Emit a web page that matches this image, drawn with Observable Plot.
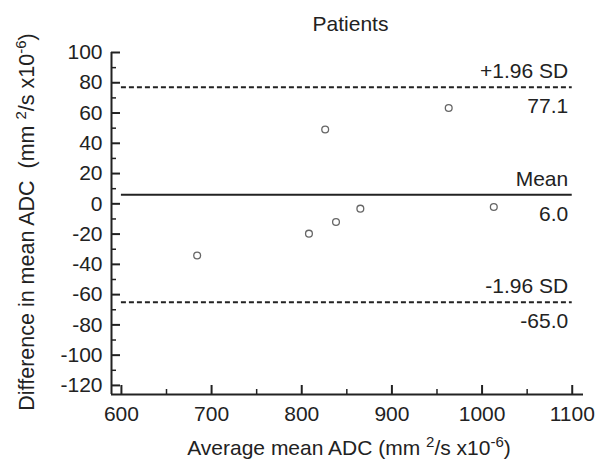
<!DOCTYPE html>
<html>
<head>
<meta charset="utf-8">
<script src="https://cdn.jsdelivr.net/npm/d3@7"></script>
<script src="https://cdn.jsdelivr.net/npm/@observablehq/plot@0.6"></script>
<style>
  html, body { margin: 0; padding: 0; background: #fff; }
  #chart svg { display: block; }
</style>
</head>
<body>
<div id="chart"></div>
<script>
// ---- data ----
const avgADC = [684, 808, 826, 838, 865, 963, 1013];
const diffADC = [-34.1, -19.7, 49.1, -12.0, -3.2, 63.3, -2.1];
const limitNames = ["+1.96 SD", "Mean", "-1.96 SD"];
const limitValues = [77.1, 6.0, -65.0];
const limitDashed = [true, false, true];
const lineExtent = [600, 1100];
const xDomain = [589, 1112.5];
const yDomain = [-126, 100];
const xTicks = [600, 700, 800, 900, 1000, 1100];
const xMinor = [650, 750, 850, 950, 1050];
const yTicks = [100, 80, 60, 40, 20, 0, -20, -40, -60, -80, -100, -120];
const yMinor = [90, 70, 50, 30, 10, -10, -30, -50, -70, -90, -110];
const title = "Patients";

const W = 598, H = 463;
const mL = 111, mR = 15, mT = 52, mB = 69;
const pw = W - mL - mR, ph = H - mT - mB;
const ink = "#222";
const font = "Liberation Sans, Arial, Helvetica, sans-serif";
const fs = 21;

const points = avgADC.map((x, i) => ({x, y: diffADC[i]}));
const limits = limitNames.map((name, i) => ({name, value: limitValues[i], dashed: limitDashed[i]}));
const fmt = d => String(d);

const chart = Plot.plot({
  width: W, height: H,
  marginLeft: mL, marginRight: mR, marginTop: mT, marginBottom: mB,
  style: {fontFamily: font, background: "#fff", color: ink, overflow: "visible"},
  x: {domain: xDomain, ticks: xTicks},
  y: {domain: yDomain, ticks: yTicks},
  marks: [
    Plot.axisX(xTicks, {tickSize: 0, tickPadding: 12, fontSize: fs, label: null, fill: ink, tickFormat: fmt}),
    Plot.axisY(yTicks, {tickSize: 0, tickPadding: 9, fontSize: fs, label: null, fill: ink, tickFormat: fmt}),
    // axis lines
    Plot.ruleX([xDomain[0]], {stroke: ink, strokeWidth: 2}),
    Plot.ruleY([yDomain[0]], {stroke: ink, strokeWidth: 2}),
    // inward ticks
    Plot.ruleY(yTicks, {stroke: ink, strokeWidth: 2, insetRight: pw - 9}),
    Plot.ruleY(yMinor, {stroke: ink, strokeWidth: 1.5, insetRight: pw - 5}),
    Plot.ruleX(xTicks, {stroke: ink, strokeWidth: 2, insetTop: ph - 9}),
    Plot.ruleX(xMinor, {stroke: ink, strokeWidth: 1.5, insetTop: ph - 5}),
    // limit lines
    Plot.ruleY(limits.filter(d => d.dashed), {y: "value", x1: lineExtent[0], x2: lineExtent[1], stroke: ink, strokeWidth: 2, strokeDasharray: "5,3"}),
    Plot.ruleY(limits.filter(d => !d.dashed), {y: "value", x1: lineExtent[0], x2: lineExtent[1], stroke: ink, strokeWidth: 2}),
    Plot.text(limits, {x: lineExtent[1], y: "value", text: "name", textAnchor: "end", lineAnchor: "bottom", dx: -4, dy: -9, fontSize: fs, fill: ink}),
    Plot.text(limits, {x: lineExtent[1], y: "value", text: d => d.value.toFixed(1), textAnchor: "end", lineAnchor: "top", dx: -4, dy: 11, fontSize: fs, fill: ink}),
    // data points
    Plot.dot(points, {x: "x", y: "y", r: 3.4, stroke: "#666", strokeWidth: 1.3, fill: "none"}),
    // title
    Plot.text([title], {frameAnchor: "top", text: d => d, lineAnchor: "bottom", dy: -22, dx: 3, fontSize: fs, fill: ink})
  ]
});

document.getElementById("chart").appendChild(chart);

// axis titles with superscripts
const svg = d3.select(chart);
function addTitle(parts, attrs, size) {
  const t = svg.append("text")
    .attr("font-family", font)
    .attr("font-size", size)
    .attr("fill", ink)
    .attr("text-anchor", "middle");
  for (const [k, v] of Object.entries(attrs)) t.attr(k, v);
  let shift = 0;
  parts.forEach(p => {
    const target = p.sup ? -8 : 0;
    const s = t.append("tspan").attr("dy", target - shift).text(p.text);
    if (p.sup) s.attr("font-size", 15);
    shift = target;
  });
}
addTitle([
  {text: "Average mean ADC (mm "}, {text: "2", sup: true}, {text: "/s x10"}, {text: "-6", sup: true}, {text: ")"}
], {x: 349, y: 455}, fs);
addTitle([
  {text: "Difference in mean ADC  (mm "}, {text: "2", sup: true}, {text: "/s x10"}, {text: "-6", sup: true}, {text: ")"}
], {transform: "translate(34,222) rotate(-90)", "xml:space": "preserve", style: "white-space: pre"}, 21.5);
</script>
</body>
</html>
